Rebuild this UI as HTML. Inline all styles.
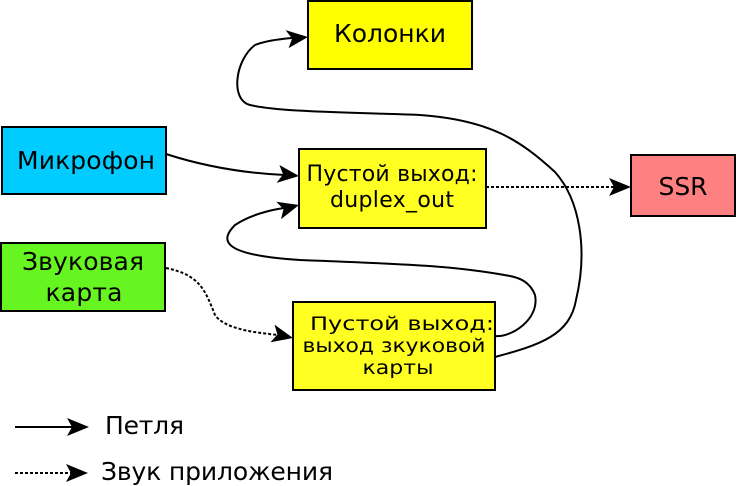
<!DOCTYPE html>
<html><head><meta charset="utf-8"><style>
html,body{margin:0;padding:0;background:#fff;}
svg{display:block;}
text{font-family:"DejaVu Sans","Liberation Sans",sans-serif;fill:#000;}
</style></head><body>
<svg width="736" height="486" viewBox="0 0 736 486" xmlns="http://www.w3.org/2000/svg">
<g stroke="#000" stroke-width="2">
<rect x="308" y="1" width="164" height="68" fill="#ffff00"/>
<rect x="2" y="127" width="164" height="67" fill="#00ccff"/>
<rect x="1" y="243" width="164" height="68" fill="#66f520"/>
<rect x="299" y="149" width="187" height="79" fill="#ffff22"/>
<rect x="293" y="302" width="202" height="88" fill="#ffff22"/>
<rect x="631" y="155" width="104" height="61" fill="#ff8080"/>
</g>
<g fill="none" stroke="#000" stroke-width="2">
<path d="M166,154 C200,165 240,173 285,175"/>
<path d="M166,268 C200,275 205,290 215,315 C225,330 260,333 278,335" stroke-dasharray="3,2"/>
<path d="M486,187 L614,187" stroke-dasharray="3,2"/>
<path d="M495,357 C540,345 570,335 576,300 C588,250 580,200 555,172 C520,140 490,120 420,115 C340,112 280,112 250,105 C230,100 235,60 255,45 C265,41 280,39 292,38"/>
<path d="M495,336 C510,338 540,320 535,295 C530,282 520,278 510,276 C450,265 400,264 300,260 C220,255 220,240 235,225 C250,215 270,210 284,208"/>
<path d="M15,427 L72,427"/>
<path d="M15,473 L71,473" stroke-dasharray="3,2"/>
</g>
<g fill="#000">
<polygon points="308,37 288.6,48.1 292.1,38.6 285.6,30.1"/>
<polygon points="299,176 276.6,182.9 283.1,174.4 279.4,165"/>
<polygon points="299,205 281,219.2 283.5,209.2 276.4,201.8"/>
<polygon points="293,338 270.5,342.2 277.4,334.5 274.5,324.6"/>
<polygon points="631,187 609,196 614,187 609,178"/>
<polygon points="89,427 67,436 72,427 67,418"/>
<polygon points="88,473 66,482 71,473 66,464"/>
</g>
<g font-size="25" text-anchor="middle">
<text x="390" y="42" textLength="112">Колонки</text>
<text x="86" y="169" textLength="138">Микрофон</text>
<text x="83" y="270" textLength="122">Звуковая</text>
<text x="84" y="301" textLength="77">карта</text>
<text x="683" y="195" textLength="49">SSR</text>
</g>
<g font-size="22" text-anchor="middle">
<text x="392" y="181" textLength="171">Пустой выход:</text>
<text x="392" y="207" textLength="124">duplex_out</text>
</g>
<g font-size="19" text-anchor="middle" lengthAdjust="spacingAndGlyphs">
<text x="402" y="330" textLength="184" lengthAdjust="spacingAndGlyphs">Пустой выход:</text>
<text x="394" y="352" textLength="183" lengthAdjust="spacingAndGlyphs">выход зкуковой</text>
<text x="398" y="374" textLength="71" lengthAdjust="spacingAndGlyphs">карты</text>
</g>
<g font-size="25">
<text x="105" y="434" textLength="79">Петля</text>
<text x="101" y="480" textLength="232">Звук приложения</text>
</g>
</svg>
</body></html>
